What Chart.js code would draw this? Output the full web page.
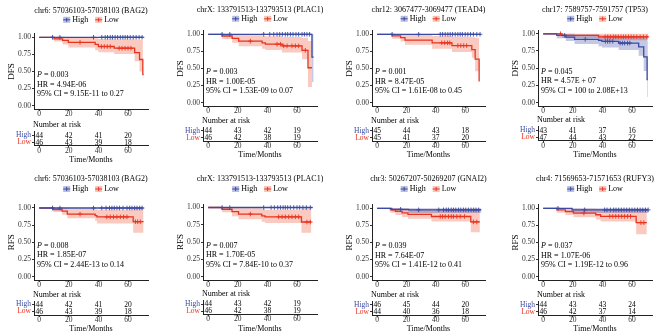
<!DOCTYPE html>
<html>
<head>
<meta charset="utf-8">
<script src="https://cdn.jsdelivr.net/npm/chart.js@4.4.1/dist/chart.umd.min.js"></script>
<style>
  body { margin: 0; background: #fff; }
  #fig { position: relative; width: 669px; height: 334px; overflow: hidden; background: #fff; }
  #fig canvas { position: absolute; }
</style>
</head>
<body>
<div id="fig"></div>
<script>
// panel texts
const panelTitles = [
  'chr6: 57036103-57038103 (BAG2)', 'chrX: 133791513-133793513 (PLAC1)',
  'chr12: 3067477-3069477 (TEAD4)', 'chr17: 7589757-7591757 (TP53)',
  'chr6: 57036103-57038103 (BAG2)', 'chrX: 133791513-133793513 (PLAC1)',
  'chr3: 50267207-50269207 (GNAI2)', 'chr4: 71569653-71571653 (RUFY3)'
];
const survLabels = ['DFS', 'DFS', 'DFS', 'DFS', 'RFS', 'RFS', 'RFS', 'RFS'];
const pValues = ['0.003', '0.003', '0.001', '0.045', '0.008', '0.007', '0.039', '0.037'];
const hrValues = ['4.94E-06', '1.00E-05', '8.47E-05', '4.57E + 07', '1.85E-07', '1.70E-05', '7.64E-07', '1.07E-06'];
const ciValues = ['9.15E-11 to 0.27', '1.53E-09 to 0.07', '1.61E-08 to 0.45', '100 to 2.08E+13',
                  '2.44E-13 to 0.14', '7.84E-10 to 0.37', '1.41E-12 to 0.41', '1.19E-12 to 0.96'];

// number at risk
const timeTicks = [0, 20, 40, 60];
const survTicks = [0, 0.25, 0.5, 0.75, 1];
const groups = ['High', 'Low'];
const riskHigh = [[44, 42, 41, 20], [44, 43, 42, 19], [45, 44, 43, 18], [43, 41, 37, 16],
                  [44, 42, 41, 20], [44, 43, 42, 19], [46, 45, 44, 20], [44, 43, 43, 24]];
const riskLow  = [[46, 43, 39, 18], [46, 42, 38, 19], [45, 41, 37, 20], [47, 44, 43, 22],
                  [46, 43, 39, 18], [46, 42, 38, 19], [44, 40, 36, 18], [46, 42, 37, 14]];

// KM curves: [months, survival, lower 95% CI, upper 95% CI]; censoring times in months
const dfsBag2High = [[0, 1, 1, 1], [70.5, 1, 1, 1]];
const dfsBag2Low = [[0, 1, 1, 1], [10, 0.978, 0.94, 1], [15.8, 0.955, 0.895, 1], [19.7, 0.925, 0.85, 0.995],
  [37.8, 0.895, 0.81, 0.985], [40, 0.865, 0.78, 0.975], [50.7, 0.84, 0.755, 0.97], [64.5, 0.775, 0.65, 0.965],
  [67.8, 0.675, 0.5, 0.96], [70, 0.455, 0.455, 0.455], [70.6, 0.455, 0.455, 0.455]];
const dfsBag2HighCens = [9, 14, 36.7, 42.3, 44.6, 46.2, 48, 49.5, 51.3, 53, 54.8, 56.5, 58.1, 59.7, 61.5, 63.5, 65.5, 67.5, 69.5];
const dfsBag2LowCens = [27.6, 42, 44, 46, 48, 54, 56, 58, 60, 62];

const dfsPlac1High = [[0, 1, 1, 1], [70.1, 0.667, 0.3, 1], [71.2, 0.667, 0.3, 1]];
const dfsPlac1Low = [[0, 1, 1, 1], [9.4, 0.975, 0.93, 1], [16.2, 0.94, 0.875, 1], [20.6, 0.9, 0.825, 0.985],
  [36.4, 0.875, 0.79, 0.975], [38.6, 0.855, 0.77, 0.97], [49.9, 0.83, 0.735, 0.96], [63.4, 0.765, 0.635, 0.95],
  [67.4, 0.51, 0.23, 0.9], [70.1, 0.51, 0.23, 0.9]];
const dfsPlac1HighCens = [9.4, 14.6, 37.5, 41.6, 44.3, 46.5, 48.3, 50.1, 52.1, 53.7, 55.5, 57.3, 59.3, 61.1, 63.4, 65, 66.7, 68.5];
const dfsPlac1LowCens = [28.5, 46.5, 48.8, 51, 53.3, 56.6, 58.9, 61.1, 65.6];

const dfsTead4High = [[0, 1, 1, 1], [70.5, 1, 1, 1]];
const dfsTead4Low = [[0, 1, 1, 1], [10.2, 0.976, 0.935, 1], [16, 0.95, 0.895, 1], [19, 0.915, 0.845, 0.99],
  [37.5, 0.875, 0.79, 0.975], [51, 0.835, 0.74, 0.965], [64.5, 0.775, 0.655, 0.955], [66.8, 0.635, 0.46, 0.95],
  [69.5, 0.32, 0.32, 0.32], [69.9, 0.32, 0.32, 0.32]];
const dfsTead4HighCens = [10.2, 28.3, 43, 44.6, 46.4, 48.2, 49.8, 51.4, 53.2, 55, 56.6, 58.1, 60, 61.8, 63.6, 65.6, 67.9, 70.1];
const dfsTead4LowCens = [44, 46, 48, 49.5, 55, 57, 59, 61];

const dfsTp53High = [[0, 1, 1, 1], [9.2, 0.977, 0.935, 1], [15.3, 0.953, 0.895, 1], [21.2, 0.92, 0.85, 0.99],
  [37.4, 0.905, 0.82, 0.98], [39.7, 0.89, 0.8, 0.975], [51, 0.865, 0.765, 0.965], [64.5, 0.81, 0.68, 0.955],
  [67.9, 0.665, 0.46, 0.94], [70.2, 0.335, 0.08, 0.9], [70.7, 0.335, 0.08, 0.9]];
const dfsTp53Low = [[0, 1, 1, 1], [12.6, 0.978, 0.94, 1], [37.4, 0.956, 0.905, 1], [71, 0.956, 0.905, 1]];
const dfsTp53HighCens = [14.5, 28.4, 42, 43.5, 45, 47, 52, 53.5, 55, 57, 58.5];
const dfsTp53LowCens = [11.7, 41.8, 43.6, 45.4, 47.4, 49, 50.8, 52.6, 54.2, 55.8, 57.6, 59.4, 61.2, 63.2, 65.5, 67.7, 70];

const rfsBag2High = [[0, 1, 1, 1], [70.5, 1, 1, 1]];
const rfsBag2Low = [[0, 1, 1, 1], [9.5, 0.978, 0.94, 1], [15.5, 0.955, 0.9, 1], [19, 0.91, 0.85, 0.99],
  [37.8, 0.89, 0.815, 0.98], [39, 0.87, 0.775, 0.975], [63.5, 0.8, 0.64, 0.985], [70.5, 0.8, 0.64, 0.985]];
const rfsBag2HighCens = [9, 14, 36.7, 42.3, 45.2, 47.5, 49.1, 50.7, 52.5, 54.3, 56.6, 59.3, 61.1, 62.7, 64.5, 66.1, 67.9, 69.5];
const rfsBag2LowCens = [27.6, 45.7, 48, 50.2, 52.5, 54.8, 57, 59.3, 65, 66.5, 68.3];

const rfsPlac1High = [[0, 1, 1, 1], [70.5, 1, 1, 1]];
const rfsPlac1Low = [[0, 1, 1, 1], [9.4, 0.975, 0.93, 1], [16.1, 0.94, 0.875, 1], [20.5, 0.905, 0.83, 0.99],
  [36.2, 0.88, 0.795, 0.975], [38.4, 0.865, 0.775, 0.965], [63, 0.79, 0.635, 0.985], [69.7, 0.79, 0.635, 0.985]];
const rfsPlac1HighCens = [9.4, 14.6, 37.5, 42.5, 44.7, 47, 48.8, 50.6, 52.1, 53.7, 55.5, 57.8, 60, 61.8, 64, 66.3, 69];
const rfsPlac1LowCens = [28.5, 47.6, 49.9, 52.1, 54.4, 56.6, 58.9, 61.1, 66.7, 69];

const rfsGnai2High = [[0, 1, 1, 1], [10, 0.985, 0.955, 1], [21.5, 0.977, 0.93, 1], [71, 0.977, 0.93, 1]];
const rfsGnai2Low = [[0, 1, 1, 1], [9, 0.978, 0.935, 1], [12.5, 0.955, 0.9, 1], [17, 0.932, 0.872, 0.995],
  [21, 0.91, 0.845, 0.985], [37, 0.88, 0.805, 0.97], [63.8, 0.8, 0.65, 0.975], [70, 0.8, 0.65, 0.975]];
const rfsGnai2HighCens = [16, 28.3, 42, 45.2, 47.1, 48.6, 50.5, 52, 53.6, 55.4, 57, 58.8, 60.4, 62.2, 64, 65.8, 67.4, 69.2];
const rfsGnai2LowCens = [43, 44.6, 46.4, 48.6, 50.5, 52, 54.3, 56.6, 59.5, 65.6, 67.9];

const rfsRufy3High = [[0, 1, 1, 1], [19.5, 0.977, 0.93, 1], [71, 0.977, 0.93, 1]];
const rfsRufy3Low = [[0, 1, 1, 1], [9.2, 0.977, 0.935, 1], [15, 0.953, 0.9, 1], [20.5, 0.93, 0.87, 0.995],
  [35.5, 0.905, 0.835, 0.985], [38.8, 0.882, 0.805, 0.97], [62.8, 0.79, 0.62, 0.98], [70, 0.79, 0.62, 0.98]];
const rfsRufy3HighCens = [10, 28, 41.5, 43.1, 45.4, 47.6, 49.2, 51, 52.8, 54.6, 56.4, 58.2, 60, 61.9, 63.7, 65.5, 67.3, 69.1, 70.9];
const rfsRufy3LowCens = [27.5, 45, 47, 49, 51, 53, 55, 57, 59, 66, 68];

const curveSets = [
  [dfsBag2High, dfsBag2Low, dfsBag2HighCens, dfsBag2LowCens],
  [dfsPlac1High, dfsPlac1Low, dfsPlac1HighCens, dfsPlac1LowCens],
  [dfsTead4High, dfsTead4Low, dfsTead4HighCens, dfsTead4LowCens],
  [dfsTp53High, dfsTp53Low, dfsTp53HighCens, dfsTp53LowCens],
  [rfsBag2High, rfsBag2Low, rfsBag2HighCens, rfsBag2LowCens],
  [rfsPlac1High, rfsPlac1Low, rfsPlac1HighCens, rfsPlac1LowCens],
  [rfsGnai2High, rfsGnai2Low, rfsGnai2HighCens, rfsGnai2LowCens],
  [rfsRufy3High, rfsRufy3Low, rfsRufy3HighCens, rfsRufy3LowCens]
];

// layout (pixels)
const colZero = [39.3, 207.7, 376.7, 543.3];      // x of month 0
const colPpm = [1.473, 1.483, 1.473, 1.478];       // px per month
const rowBase = [[37.3, 34.3, 34.3, 33.8], [208, 207.5, 208.3, 208.3]]; // y of survival 1.00
const rowTitle = [9.5, 179];
const rowLegend = [18.8, 189];
const ppu = 68.6;

const highColor = '#3A4AA2', lowColor = '#E8341F';
const highFill = 'rgba(58,74,162,0.3)', lowFill = 'rgba(240,90,60,0.33)';
const highKey = '#B9BEE0', lowKey = '#F8C2B6';
const serif = 'Liberation Serif';
const fig = document.getElementById('fig');

function survAt(curve, t) {
  let s = curve[0][1];
  curve.forEach(r => { if (r[0] <= t) s = r[1]; });
  return s;
}

function addCanvas(left, top, w, h) {
  const cv = document.createElement('canvas');
  cv.width = w; cv.height = h;
  cv.style.left = left + 'px'; cv.style.top = top + 'px';
  cv.style.width = w + 'px'; cv.style.height = h + 'px';
  fig.appendChild(cv);
  return cv;
}

// title, legend and test statistics of one survival panel
const notePlugin = {
  id: 'kmNote',
  afterDatasetsDraw(chart, args, opts) {
    const {ctx, chartArea, scales} = chart;
    const font = '8px "' + serif + '"';
    const cx = (chartArea.left + chartArea.right) / 2;
    ctx.save();
    ctx.fillStyle = '#000';
    ctx.textBaseline = 'middle';
    ctx.font = font;

    ctx.textAlign = 'center';
    ctx.fillText(opts.title, cx, chartArea.top + opts.titleDy);

    // legend
    const ly = chartArea.top + opts.legendDy;
    const items = [[groups[0], highKey, highColor], [groups[1], lowKey, lowColor]];
    const widths = items.map(it => 9 + ctx.measureText(it[0]).width);
    let lx = cx - (widths[0] + widths[1] + 7) / 2;
    ctx.textAlign = 'left';
    items.forEach((it, k) => {
      ctx.fillStyle = it[1];
      ctx.fillRect(lx, ly - 3, 7, 6);
      ctx.strokeStyle = it[2];
      ctx.lineWidth = 1;
      ctx.beginPath();
      ctx.moveTo(lx, ly); ctx.lineTo(lx + 7, ly);
      ctx.moveTo(lx + 3.5, ly - 2); ctx.lineTo(lx + 3.5, ly + 2);
      ctx.stroke();
      ctx.fillStyle = '#000';
      ctx.fillText(it[0], lx + 9, ly);
      lx += widths[k] + 7;
    });

    const x = chartArea.left + 3;
    const yp = scales.y.getPixelForValue(0.45);
    ctx.font = 'italic ' + font;
    ctx.fillText('P', x, yp);
    const w = ctx.measureText('P').width;
    ctx.font = font;
    ctx.fillText(' = ' + opts.p, x + w, yp);
    ctx.fillText('HR = ' + opts.hr, x, scales.y.getPixelForValue(0.31));
    ctx.fillText('95% CI = ' + opts.ci, x, scales.y.getPixelForValue(0.175));
    ctx.restore();
  }
};

const countPlugin = {
  id: 'riskCounts',
  afterDatasetsDraw(chart) {
    const {ctx, chartArea} = chart;
    ctx.save();
    ctx.fillStyle = '#000';
    ctx.textBaseline = 'middle';
    ctx.font = '8px "' + serif + '"';
    ctx.textAlign = 'left';
    ctx.fillText('Number at risk', chartArea.left - 1, chartArea.top - 6.5);
    ctx.font = '7.5px "' + serif + '"';
    ctx.textAlign = 'center';
    chart.data.datasets.forEach((ds, i) => {
      chart.getDatasetMeta(i).data.forEach((pt, j) => {
        ctx.fillText(String(ds.counts[j]), pt.x, pt.y + 0.5);
      });
    });
    ctx.restore();
  }
};

const tickFont = {family: serif, size: 7.5, lineHeight: 1};
const gridStyle = {drawOnChartArea: false, drawTicks: true, tickLength: 2, color: '#333'};
const borderStyle = {display: true, color: '#222', width: 1};

function timeAxis(extra) {
  return Object.assign({
    type: 'linear', min: -3.5, max: 73.5,
    afterBuildTicks: s => { s.ticks = timeTicks.map(v => ({value: v})); },
    ticks: {font: tickFont, color: '#333', padding: -1, maxRotation: 0},
    grid: gridStyle, border: borderStyle
  }, extra);
}

for (let i = 0; i < 8; i++) {
  const row = Math.floor(i / 4), col = i % 4;
  const ppm = colPpm[col];
  const areaL = colZero[col] - 3.5 * ppm;
  const areaW = 77 * ppm;
  const base = rowBase[row][col];
  const areaT = base - 0.05 * ppu;
  const areaH = 1.1 * ppu;
  const shift = i === 0 ? 1 : 0;

  // survival curves
  const [hi, lo, hiC, loC] = curveSets[i];
  const pts = (c, k) => c.map(r => ({x: r[0], y: r[k]}));
  const band = (c, k, fill, color) => ({
    data: pts(c, k), stepped: true, borderWidth: 0, borderColor: 'transparent',
    pointRadius: 0, fill: fill, backgroundColor: color
  });
  const cens = (times, c, color) => ({
    data: times.map(t => ({x: t, y: survAt(c, t)})), showLine: false,
    pointStyle: 'cross', pointRadius: 2.3, borderColor: color, borderWidth: 0.9, fill: false
  });
  const line = (c, color) => ({
    data: pts(c, 1), stepped: true, borderColor: color, borderWidth: 1.3, pointRadius: 0, fill: false
  });

  const kmL = Math.round(areaL - 34), kmT = Math.round(rowTitle[row] + shift - 7);
  const kmW = Math.round(areaL + areaW + 6) - kmL;
  const kmH = Math.round(areaT + areaH + 10) - kmT;
  const padTop = areaT - kmT;
  new Chart(addCanvas(kmL, kmT, kmW, kmH), {
    type: 'line',
    data: {
      datasets: [
        cens(hiC, hi, highColor), cens(loC, lo, lowColor),
        line(hi, highColor), line(lo, lowColor),
        band(hi, 3, '+1', highFill), band(hi, 2, false, highFill),
        band(lo, 3, '+1', lowFill), band(lo, 2, false, lowFill)
      ]
    },
    options: {
      responsive: false, animation: false, events: [], devicePixelRatio: 1,
      layout: {padding: {top: padTop, right: 6, left: 0, bottom: 0}},
      plugins: {
        legend: {display: false}, tooltip: {enabled: false},
        kmNote: {
          title: panelTitles[i], p: pValues[i], hr: hrValues[i], ci: ciValues[i],
          titleDy: rowTitle[row] + shift - areaT, legendDy: rowLegend[row] + shift - areaT
        }
      },
      scales: {
        x: timeAxis({afterFit: s => { s.height = 10; }}),
        y: {
          type: 'linear', min: -0.05, max: 1.05,
          afterBuildTicks: s => { s.ticks = survTicks.map(v => ({value: v})); },
          afterFit: s => { s.width = 34; },
          ticks: {font: tickFont, color: '#333', padding: 1, callback: v => Number(v).toFixed(2)},
          title: {display: true, text: survLabels[i], color: '#000',
                  font: {family: serif, size: 9}, padding: {top: 6, bottom: 0}},
          grid: gridStyle, border: borderStyle
        }
      }
    },
    plugins: [notePlugin]
  });

  // number at risk table
  const dy = i === 0 ? 1.5 : 0;
  const rkT = Math.round(base + dy + 81);
  const rkPad = base + dy + 93 - rkT;
  const rkH = Math.min(334 - rkT, Math.round(rkPad + 14 + 19));
  const xH = rkH - rkPad - 14;
  new Chart(addCanvas(kmL, rkT, kmW, rkH), {
    type: 'line',
    data: {
      datasets: [
        {data: timeTicks.map(t => ({x: t, y: groups[0]})), counts: riskHigh[i], showLine: false, pointRadius: 0},
        {data: timeTicks.map(t => ({x: t, y: groups[1]})), counts: riskLow[i], showLine: false, pointRadius: 0}
      ]
    },
    options: {
      responsive: false, animation: false, events: [], devicePixelRatio: 1,
      layout: {padding: {top: rkPad, right: 6, left: 0, bottom: 0}},
      plugins: {legend: {display: false}, tooltip: {enabled: false}},
      scales: {
        x: timeAxis({
          afterFit: s => { s.height = xH; },
          title: {display: true, text: 'Time/Months', color: '#000',
                  font: {family: serif, size: 8}, padding: {top: 0, bottom: 0}}
        }),
        y: {
          type: 'category', labels: groups, offset: true,
          afterFit: s => { s.width = 34; },
          ticks: {font: {family: serif, size: 7.5, lineHeight: 1}, autoSkip: false, padding: 1,
                  color: c => (c.index === 0 ? highColor : lowColor)},
          grid: gridStyle, border: borderStyle
        }
      }
    },
    plugins: [countPlugin]
  });
}
</script>
</body>
</html>
